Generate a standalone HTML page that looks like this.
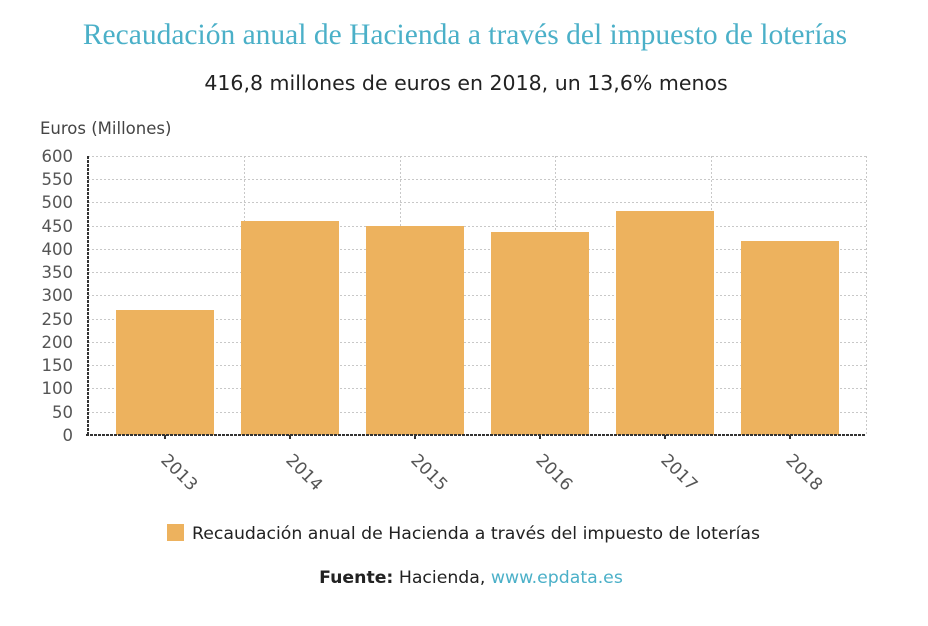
<!DOCTYPE html>
<html><head><meta charset="utf-8"><style>
body{margin:0;background:#fff;width:928px;height:621px;overflow:hidden;font-family:"Liberation Sans","DejaVu Sans",sans-serif}
</style></head><body>
<svg width="928" height="621" xmlns="http://www.w3.org/2000/svg">
<text x="465" y="44" text-anchor="middle" font-family="Liberation Serif, serif" font-size="29.5" fill="#4bb0c8">Recaudación anual de Hacienda a través del impuesto de loterías</text>
<text x="466" y="90" text-anchor="middle" font-family="DejaVu Sans, sans-serif" font-size="20.5" fill="#222">416,8 millones de euros en 2018, un 13,6% menos</text>
<text x="40" y="134" font-family="DejaVu Sans, sans-serif" font-size="16.5" fill="#444">Euros (Millones)</text>
<g stroke="#c8c8c8" stroke-width="1" stroke-dasharray="2,2">
<line x1="88" x2="866" y1="156.5" y2="156.5"/><line x1="88" x2="866" y1="179.5" y2="179.5"/><line x1="88" x2="866" y1="202.5" y2="202.5"/><line x1="88" x2="866" y1="226.5" y2="226.5"/><line x1="88" x2="866" y1="249.5" y2="249.5"/><line x1="88" x2="866" y1="272.5" y2="272.5"/><line x1="88" x2="866" y1="295.5" y2="295.5"/><line x1="88" x2="866" y1="319.5" y2="319.5"/><line x1="88" x2="866" y1="342.5" y2="342.5"/><line x1="88" x2="866" y1="365.5" y2="365.5"/><line x1="88" x2="866" y1="388.5" y2="388.5"/><line x1="88" x2="866" y1="412.5" y2="412.5"/>
<line x1="244.5" x2="244.5" y1="156" y2="435"/><line x1="400.5" x2="400.5" y1="156" y2="435"/><line x1="555.5" x2="555.5" y1="156" y2="435"/><line x1="711.5" x2="711.5" y1="156" y2="435"/><line x1="866.5" x2="866.5" y1="156" y2="435"/>
</g>
<g fill="#edb25e">
<rect x="116" y="310" width="98" height="125"/>
<rect x="241" y="221" width="98" height="214"/>
<rect x="366" y="226" width="98" height="209"/>
<rect x="491" y="232" width="98" height="203"/>
<rect x="616" y="211" width="98" height="224"/>
<rect x="741" y="241" width="98" height="194"/>
</g>
<line x1="88" x2="88" y1="156" y2="436" stroke="#333" stroke-width="2" stroke-dasharray="3,1"/>
<line x1="86" x2="866" y1="435" y2="435" stroke="#333" stroke-width="2" stroke-dasharray="3,1"/>
<g stroke="#333" stroke-width="2">
<line x1="165" x2="165" y1="435" y2="439"/><line x1="290" x2="290" y1="435" y2="439"/><line x1="415" x2="415" y1="435" y2="439"/><line x1="540" x2="540" y1="435" y2="439"/><line x1="665" x2="665" y1="435" y2="439"/><line x1="790" x2="790" y1="435" y2="439"/>
</g>
<g font-family="DejaVu Sans, sans-serif" font-size="16.5" fill="#555" text-anchor="end">
<text x="73" y="162">600</text><text x="73" y="185">550</text><text x="73" y="208">500</text><text x="73" y="232">450</text><text x="73" y="255">400</text><text x="73" y="278">350</text><text x="73" y="301">300</text><text x="73" y="325">250</text><text x="73" y="348">200</text><text x="73" y="371">150</text><text x="73" y="394">100</text><text x="73" y="418">50</text><text x="73" y="441">0</text>
</g>
<g font-family="DejaVu Sans, sans-serif" font-size="17" fill="#555">
<text transform="translate(160,461) rotate(45)">2013</text>
<text transform="translate(285,461) rotate(45)">2014</text>
<text transform="translate(410,461) rotate(45)">2015</text>
<text transform="translate(535,461) rotate(45)">2016</text>
<text transform="translate(660,461) rotate(45)">2017</text>
<text transform="translate(785,461) rotate(45)">2018</text>
</g>
<rect x="167" y="524" width="17" height="17" fill="#edb25e"/>
<text x="192" y="539" font-family="DejaVu Sans, sans-serif" font-size="17.3" fill="#222">Recaudación anual de Hacienda a través del impuesto de loterías</text>
<text x="471" y="583" text-anchor="middle" font-family="DejaVu Sans, sans-serif" font-size="17.3" fill="#222"><tspan font-weight="bold">Fuente:</tspan> Hacienda, <tspan fill="#4bb0c8">www.epdata.es</tspan></text>
</svg>
</body></html>
